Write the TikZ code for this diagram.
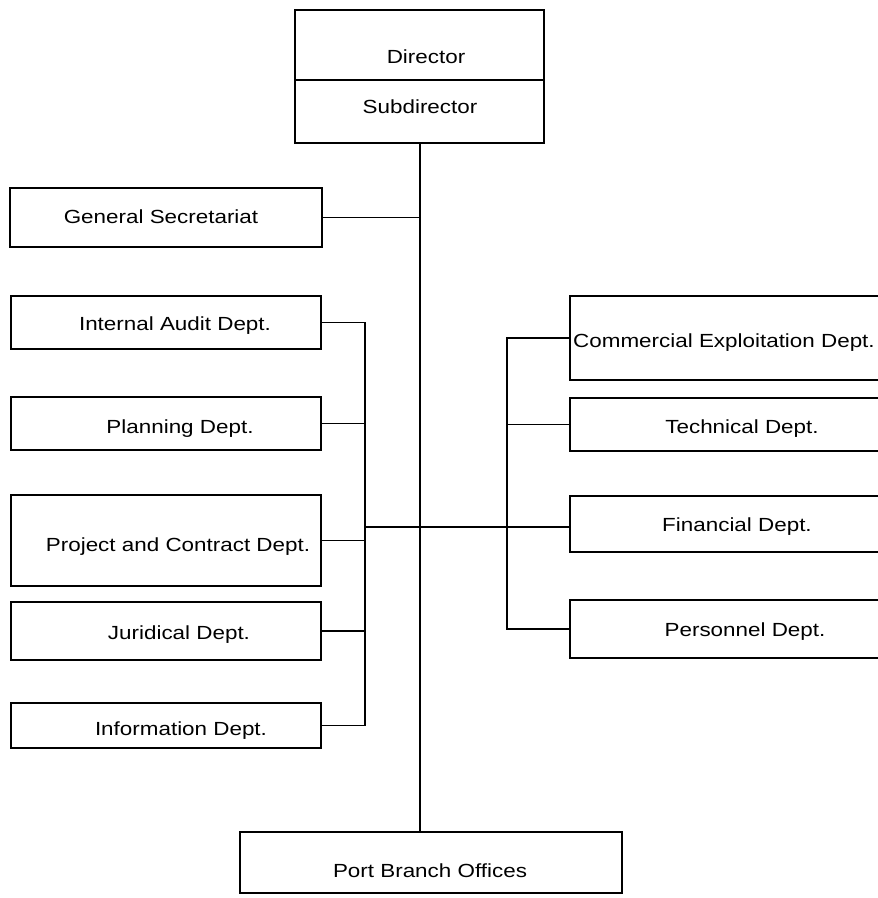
\documentclass[tikz,border=0pt]{standalone}
\usepackage{fontspec}
\newfontfamily\orgfont[FakeStretch=1.18]{Liberation Sans}
\tikzset{
  box/.style={draw, line width=1.6pt, inner sep=0pt, rectangle},
  lbl/.style={font=\orgfont\fontsize{19}{23}\selectfont, inner sep=0pt, anchor=base},
  conn/.style={line width=1.3pt},
  divider/.style={line width=1.4pt},
  mainline/.style={line width=2pt}
}
\begin{document}
\begin{tikzpicture}[x=1pt,y=-1pt]
\useasboundingbox (0,0) rectangle (878,898);
\clip (0,0) rectangle (878,898);

% top box
\node[box, minimum width=249pt, minimum height=133pt] (dir) at (419.5,76.5) {};
\coordinate (dl) at (295,80);
\coordinate (dr) at (544,80);
\draw[divider] (dl) -- (dr);
\node[lbl] (tdir) at (426,63) {Director};
\node[lbl] (tsub) at (420,113) {Subdirector};

% left column
\node[box, minimum width=312pt, minimum height=59pt] (gs) at (166,217.5) {};
\node[lbl] (tgs) at (161,223) {General Secretariat};
\node[box, minimum width=310pt, minimum height=53pt] (ia) at (166,322.5) {};
\node[lbl] (tia) at (175,330) {Internal Audit Dept.};
\node[box, minimum width=310pt, minimum height=53pt] (pl) at (166,423.5) {};
\node[lbl] (tpl) at (180,433) {Planning Dept.};
\node[box, minimum width=310pt, minimum height=91pt] (pc) at (166,540.5) {};
\node[lbl] (tpc) at (178,551) {Project and Contract Dept.};
\node[box, minimum width=310pt, minimum height=58pt] (ju) at (166,631) {};
\node[lbl] (tju) at (179,639) {Juridical Dept.};
\node[box, minimum width=310pt, minimum height=45pt] (inf) at (166,725.5) {};
\node[lbl] (tin) at (181,735) {Information Dept.};

% right column
\node[box, minimum width=345pt, minimum height=84pt] (ce) at (742.5,338) {};
\node[lbl] (tce) at (724,347) {Commercial Exploitation Dept.};
\node[box, minimum width=345pt, minimum height=53pt] (te) at (742.5,424.5) {};
\node[lbl] (tte) at (742,433) {Technical Dept.};
\node[box, minimum width=345pt, minimum height=56pt] (fi) at (742.5,524) {};
\node[lbl] (tfi) at (737,531) {Financial Dept.};
\node[box, minimum width=345pt, minimum height=58pt] (pe) at (742.5,629) {};
\node[lbl] (tpe) at (745,636) {Personnel Dept.};

% bottom box
\node[box, minimum width=382pt, minimum height=61pt] (pb) at (431,862.5) {};
\node[lbl] (tpb) at (430,877) {Port Branch Offices};

% bus positions
\coordinate (lbx) at (365,0);
\coordinate (rbx) at (507,0);
\coordinate (cry) at (0,527);

% main line
\draw[mainline] (dir.south) -- (dir.south |- pb.north);

% general secretariat
\draw[conn] (gs.east) -- (gs.east -| dir.south);

% left bus
\draw[conn] (ia.east) -- (ia.east -| lbx) -- (inf.east -| lbx) -- (inf.east);
\draw[conn] (pl.east) -- (pl.east -| lbx);
\draw[conn] (pc.east) -- (pc.east -| lbx);
\draw[conn] (ju.east) -- (ju.east -| lbx);

% crossing line to financial
\draw[conn] (lbx |- cry) -- (fi.west |- cry);

% right bus
\draw[conn] (ce.west) -- (ce.west -| rbx) -- (pe.west -| rbx) -- (pe.west);
\draw[conn] (te.west -| rbx) -- (te.west);
\end{tikzpicture}
\end{document}
